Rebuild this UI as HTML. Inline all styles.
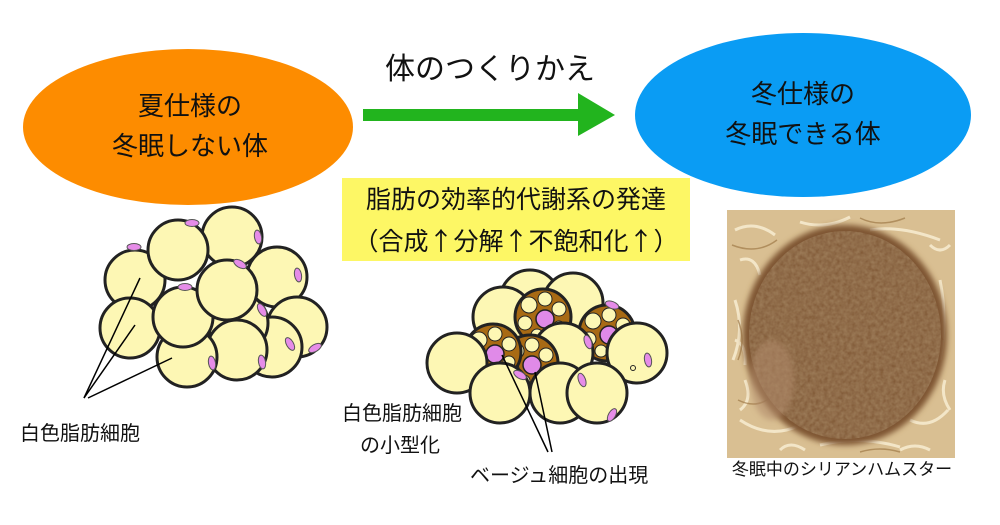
<!DOCTYPE html>
<html><head><meta charset="utf-8"><style>
html,body{margin:0;padding:0;background:#fff;width:1000px;height:525px;overflow:hidden}
text{font-family:"Liberation Sans","Noto Sans CJK JP",sans-serif;fill:#111}
.j{font-family:"Noto Sans CJK JP",sans-serif}
</style></head><body>
<svg width="1000" height="525" viewBox="0 0 1000 525" xmlns="http://www.w3.org/2000/svg">
<defs>
<g id="c"><circle r="30" fill="#fdf7b4" stroke="#222" stroke-width="3"/></g>
<g id="b"><circle r="28" fill="#a86a14" stroke="#222" stroke-width="3"/>
<circle cx="-14" cy="-12" r="8" fill="#fdf7b4" stroke="#222"/><circle cx="2" cy="-18" r="7" fill="#fdf7b4" stroke="#222"/>
<circle cx="16" cy="-8" r="7" fill="#fdf7b4" stroke="#222"/><circle cx="-18" cy="6" r="7" fill="#fdf7b4" stroke="#222"/>
<circle cx="16" cy="10" r="6" fill="#fdf7b4" stroke="#222"/><circle cx="-6" cy="18" r="6" fill="#fdf7b4" stroke="#222"/>
<circle cx="8" cy="20" r="5" fill="#fdf7b4" stroke="#222"/>
<circle cx="2" cy="2" r="9" fill="#e08ae8" stroke="#222" stroke-width="1.5"/></g>
<g id="n"><ellipse rx="7" ry="3.5" fill="#e68ce8" stroke="#555"/></g>
<filter id="bl"><feGaussianBlur stdDeviation="3"/></filter>
<filter id="fur"><feTurbulence type="fractalNoise" baseFrequency="0.25" numOctaves="2" result="t"/>
<feColorMatrix in="t" type="matrix" values="0 0 0 0 0.45  0 0 0 0 0.3  0 0 0 0 0.16  0 0 0 0.6 0" result="c"/>
<feComposite in="c" in2="SourceGraphic" operator="in" result="m"/>
<feMerge><feMergeNode in="SourceGraphic"/><feMergeNode in="m"/></feMerge></filter>
</defs>

<ellipse cx="188" cy="127" rx="165" ry="78" fill="#fd8c00"/>
<text x="190" y="115" font-size="26" text-anchor="middle">夏仕様の</text>
<text x="190" y="155" font-size="26" text-anchor="middle">冬眠しない体</text>

<ellipse cx="803" cy="115" rx="168" ry="82" fill="#0a9cf4"/>
<text x="803" y="103" font-size="26" text-anchor="middle">冬仕様の</text>
<text x="803" y="143" font-size="26" text-anchor="middle">冬眠できる体</text>

<text x="490" y="79" font-size="30" text-anchor="middle">体のつくりかえ</text>
<rect x="363" y="109" width="222" height="12" fill="#22b41e"/>
<polygon points="578,93 615,115 578,136" fill="#22b41e"/>

<rect x="342" y="178" width="348" height="83" fill="#fdf765"/>
<text x="516" y="208" font-size="25" text-anchor="middle">脂肪の効率的代謝系の発達</text>
<text x="516" y="250" font-size="25" text-anchor="middle" class="j">（合成↑分解↑不飽和化↑）</text>

<!-- left cluster -->
<g>
<use href="#c" x="232" y="237"/><use href="#c" x="277" y="277"/><use href="#c" x="135" y="280"/>
<use href="#c" x="130" y="328"/><use href="#c" x="297" y="327"/><use href="#c" x="272" y="347"/>
<use href="#c" x="238" y="323"/><use href="#c" x="237" y="350"/><use href="#c" x="187" y="357"/>
<use href="#c" x="183" y="317"/><use href="#c" x="178" y="250"/><use href="#c" x="227" y="290"/>
<use href="#n" x="192" y="223"/><use href="#n" x="134" y="247"/><use href="#n" x="185" y="287"/>
<use href="#n" x="240" y="264" transform="rotate(30 240 264)"/><use href="#n" x="258" y="237" transform="rotate(80 258 237)"/>
<use href="#n" x="298" y="275" transform="rotate(80 298 275)"/><use href="#n" x="262" y="310" transform="rotate(60 262 310)"/>
<use href="#n" x="290" y="344" transform="rotate(60 290 344)"/><use href="#n" x="315" y="348" transform="rotate(-30 315 348)"/>
<use href="#n" x="212" y="363" transform="rotate(80 212 363)"/><use href="#n" x="262" y="362" transform="rotate(80 262 362)"/>
</g>
<g stroke="#000" stroke-width="1.5">
<line x1="140" y1="278" x2="84" y2="398"/><line x1="135" y1="325" x2="84" y2="398"/><line x1="172" y1="358" x2="88" y2="398"/>
</g>
<text x="20" y="440" font-size="20">白色脂肪細胞</text>

<!-- middle cluster -->
<g transform="translate(0,10)">
<use href="#c" x="530" y="290"/><use href="#c" x="573" y="293"/><use href="#c" x="503" y="307"/>
<use href="#b" x="543" y="307"/><use href="#b" x="607" y="323"/>
<use href="#c" x="637" y="343"/><use href="#c" x="563" y="343"/>
<use href="#b" x="530" y="353"/><use href="#b" x="493" y="342"/>
<use href="#c" x="457" y="353"/><use href="#c" x="500" y="383"/><use href="#c" x="560" y="383"/><use href="#c" x="597" y="383"/>
<use href="#n" x="612" y="295" transform="rotate(20 612 295)"/><use href="#n" x="588" y="332" transform="rotate(70 588 332)"/>
<use href="#n" x="648" y="350" transform="rotate(80 648 350)"/><use href="#n" x="612" y="405" transform="rotate(-60 612 405)"/>
<use href="#n" x="582" y="370" transform="rotate(70 582 370)"/><use href="#n" x="520" y="365" transform="rotate(30 520 365)"/>
<circle cx="633" cy="358" r="2.5" fill="none" stroke="#222"/>
</g>
<g stroke="#000" stroke-width="1.5">
<line x1="502" y1="355" x2="548" y2="452"/><line x1="535" y1="372" x2="552" y2="452"/>
</g>
<text x="342" y="420" font-size="20">白色脂肪細胞</text>
<text x="360" y="452" font-size="20">の小型化</text>
<text x="470" y="482" font-size="20">ベージュ細胞の出現</text>

<!-- hamster photo -->
<rect x="727" y="210" width="228" height="248" fill="#d9bf92"/>
<g stroke="#f3e6c8" stroke-width="3" fill="none">
<path d="M735 230 q20 -10 40 5"/><path d="M800 222 q25 8 50 -5"/><path d="M870 230 q30 -5 70 10"/>
<path d="M735 300 q10 30 -2 60"/><path d="M940 280 q8 40 0 80"/><path d="M740 420 q30 20 60 5"/>
<path d="M820 445 q40 -10 80 2"/><path d="M910 420 q20 10 38 -10"/><path d="M745 380 q8 20 -5 30"/>
<path d="M740 260 q15 -5 20 15"/><path d="M930 245 q10 10 20 0"/><path d="M900 450 q15 -8 30 0"/>
<path d="M735 340 q12 5 10 25"/><path d="M945 380 q-5 15 5 30"/><path d="M780 450 q10 -10 25 0"/>
</g>
<g stroke="#a07a48" stroke-width="1.5" fill="none" opacity="0.7">
<path d="M732 245 q25 10 45 -5"/><path d="M860 218 q20 10 45 0"/><path d="M935 300 q-5 20 8 40"/>
<path d="M738 400 q20 10 35 -5"/><path d="M860 452 q20 -6 40 0"/><path d="M738 320 q8 20 0 40"/>
</g>
<ellipse cx="845" cy="335" rx="102" ry="110" fill="#7e5432" filter="url(#bl)"/>
<ellipse cx="845" cy="335" rx="96" ry="104" fill="#7e5432" filter="url(#fur)"/>
<ellipse cx="772" cy="380" rx="22" ry="40" fill="#b08a6a" opacity="0.55" filter="url(#bl)"/>
<text x="842" y="475" font-size="17" text-anchor="middle">冬眠中のシリアンハムスター</text>
</svg>
</body></html>
